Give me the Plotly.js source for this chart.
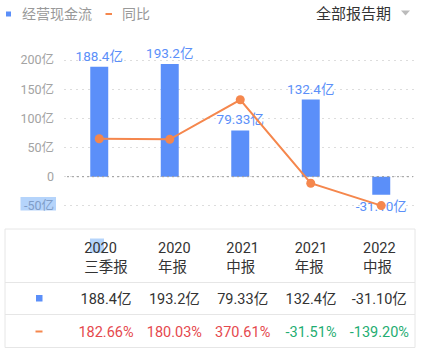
<!DOCTYPE html>
<html>
<head>
<meta charset="utf-8">
<script src="https://cdn.plot.ly/plotly-3.0.1.min.js"></script>
<style>
html,body{margin:0;padding:0;background:#fff;}
#chart{width:421px;height:352px;}
</style>
</head>
<body>
<div id="chart"></div>
<script>
// ---- data ----
const years = ['2020', '2020', '2021', '2021', '2022'];
const reportTypes = ['三季报', '年报', '中报', '年报', '中报'];
const cashFlow = [188.4, 193.2, 79.33, 132.4, -31.10];   // 经营现金流 (亿)
const yoy = [182.66, 180.03, 370.61, -31.51, -139.20];   // 同比 (%)
const yTickVals = [-50, 0, 50, 100, 150, 200];
const seriesNames = ['经营现金流', '同比'];
const periodFilter = '全部报告期';

// ---- styles ----
const BLUE = '#5B8FF9';
const ORANGE = '#F5874D';
const RED = '#E5484D';
const GREEN = '#1FAD72';
const FONT = "Roboto, 'Noto Sans CJK SC', sans-serif";
const W = 421, H = 352;
const px = v => v / W;
const py = v => 1 - v / H;

const categories = years.map((y, i) => y + reportTypes[i]);
const cashLabels = cashFlow.map(v => v.toPrecision(4) + '亿');
const yoyLabels = yoy.map(v => v.toFixed(2) + '%');
const tickText = yTickVals.map(v => {
  if (v === 0) return '0';
  if (v < 0) return '<span style="color:#7f9dc8">' + v + '亿</span>';
  return v + '亿';
});

const barTrace = {
  type: 'bar', x: categories, y: cashFlow, name: seriesNames[0],
  marker: {color: BLUE}, width: 0.255,
  text: cashLabels, textposition: 'outside', cliponaxis: false,
  textfont: {color: BLUE, size: 13.5, family: FONT},
  constraintext: 'none', hoverinfo: 'skip', showlegend: false
};
const lineTrace = {
  type: 'scatter', mode: 'lines+markers', x: categories, y: yoy, yaxis: 'y2',
  name: seriesNames[1], line: {color: ORANGE, width: 2},
  marker: {color: ORANGE, size: 9}, cliponaxis: false,
  hoverinfo: 'skip', showlegend: false
};

// table
const headerVals = [''].concat(years.map((y, i) => y + '<br>' + reportTypes[i]));
const cellVals = [['', '']].concat(cashLabels.map((c, i) => [c, yoyLabels[i]]));
const cellColors = [[BLUE, ORANGE]].concat(yoy.map(v => ['#333333', v >= 0 ? RED : GREEN]));
const tableTrace = {
  type: 'table',
  domain: {x: [px(3.5), px(413.5)], y: [py(350.5), py(232)]},
  columnwidth: [1, 1, 1, 1, 1, 1],
  header: {
    values: headerVals, align: 'center', height: 53,
    line: {color: 'rgba(0,0,0,0)', width: 0},
    fill: {color: 'rgba(0,0,0,0)'},
    font: {family: FONT, size: 14.5, color: '#333333'}
  },
  cells: {
    values: cellVals, align: 'center', height: 32.75,
    line: {color: 'rgba(0,0,0,0)', width: 0},
    fill: {color: 'rgba(0,0,0,0)'},
    font: {family: FONT, size: 14.5, color: cellColors}
  }
};

const BORDER = '#E6E6E6';
const shapes = [
  // zero line (dotted, darker)
  {type: 'line', xref: 'paper', yref: 'y', x0: px(67), x1: px(413), y0: 0, y1: 0,
   line: {color: '#999999', width: 1, dash: '2px,3px'}},
  // selection highlights
  {type: 'rect', xref: 'paper', yref: 'paper', x0: px(20.5), x1: px(56), y0: py(210.5), y1: py(197), layer: 'below',
   fillcolor: '#B5D4FB', line: {width: 0}},
  {type: 'rect', xref: 'paper', yref: 'paper', x0: px(90), x1: px(104), y0: py(253), y1: py(238.5), layer: 'below',
   fillcolor: '#B5D4FB', line: {width: 0}},
  // table borders
  {type: 'rect', xref: 'paper', yref: 'paper', x0: px(5), x1: px(415), y0: py(347.5), y1: py(229),
   line: {color: BORDER, width: 1}},
  {type: 'line', xref: 'paper', yref: 'paper', x0: px(5), x1: px(415), y0: py(282.5), y1: py(282.5),
   line: {color: BORDER, width: 1}},
  {type: 'line', xref: 'paper', yref: 'paper', x0: px(5), x1: px(415), y0: py(314.5), y1: py(314.5),
   line: {color: BORDER, width: 1}},
  // table row icons
  {type: 'rect', xref: 'paper', yref: 'paper', x0: px(36), x1: px(42.5), y0: py(301.5), y1: py(295),
   fillcolor: BLUE, line: {width: 0}},
  {type: 'line', xref: 'paper', yref: 'paper', x0: px(35.5), x1: px(42.5), y0: py(331.5), y1: py(331.5),
   line: {color: ORANGE, width: 2}},
  // legend icons
  {type: 'rect', xref: 'paper', yref: 'paper', x0: px(6), x1: px(11), y0: py(16.5), y1: py(11.5),
   fillcolor: BLUE, line: {width: 0}},
  {type: 'line', xref: 'paper', yref: 'paper', x0: px(105.5), x1: px(112), y0: py(14), y1: py(14),
   line: {color: ORANGE, width: 2}},
  // dropdown triangle
  {type: 'path', xref: 'paper', yref: 'paper',
   path: `M ${px(401)} ${py(10.5)} L ${px(410)} ${py(10.5)} L ${px(405.5)} ${py(15.5)} Z`,
   fillcolor: '#BBBBBB', line: {width: 0}}
];

const annotations = [
  {xref: 'paper', yref: 'paper', x: px(19.5), y: py(14), xanchor: 'left', yanchor: 'middle',
   text: seriesNames[0], showarrow: false, font: {family: FONT, size: 14, color: '#999999'}},
  {xref: 'paper', yref: 'paper', x: px(119.5), y: py(14), xanchor: 'left', yanchor: 'middle',
   text: seriesNames[1], showarrow: false, font: {family: FONT, size: 14, color: '#999999'}},
  {xref: 'paper', yref: 'paper', x: px(393), y: py(14), xanchor: 'right', yanchor: 'middle',
   text: periodFilter, showarrow: false, font: {family: FONT, size: 15, color: '#333333'}}
];

const layout = {
  width: W, height: H,
  margin: {l: 0, r: 0, t: 0, b: 0, pad: 0},
  paper_bgcolor: '#ffffff', plot_bgcolor: 'rgba(0,0,0,0)',
  showlegend: false,
  font: {family: FONT},
  xaxis: {
    type: 'category', domain: [px(64), px(416.5)], range: [-0.5, 4.5],
    showticklabels: false, showgrid: false, zeroline: false, showline: false, fixedrange: true
  },
  yaxis: {
    domain: [py(215), py(50)], range: [-65.7, 217.3],
    tickvals: yTickVals, ticktext: tickText,
    tickfont: {family: FONT, size: 12.5, color: '#A3A3A3'},
    showgrid: true, gridcolor: '#DDDDDD', gridwidth: 1, griddash: '2px,4px',
    zeroline: false, showline: false, ticks: '', ticklabelstandoff: 9, automargin: false
  },
  yaxis2: {
    overlaying: 'y', side: 'right', range: [-184.6, 610.6],
    visible: false, showgrid: false, zeroline: false
  },
  shapes: shapes,
  annotations: annotations
};

Plotly.newPlot('chart', [barTrace, lineTrace, tableTrace], layout, {staticPlot: true, displayModeBar: false});
</script>
</body>
</html>
